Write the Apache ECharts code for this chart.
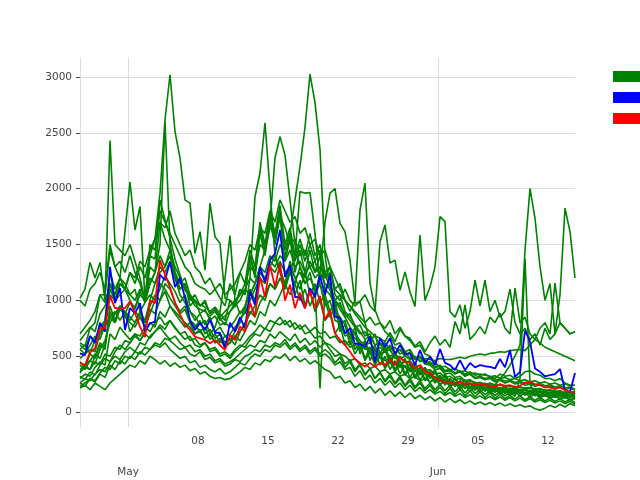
<!DOCTYPE html>
<html>
<head>
<meta charset="utf-8">
<script src="https://cdn.jsdelivr.net/npm/echarts@6/dist/echarts.min.js"></script>
<style>
html,body{margin:0;padding:0;background:#fff;}
#chart{width:640px;height:480px;}
</style>
</head>
<body>
<div id="chart"></div>
<script>
// ---- time base: 100 half-day samples ----
const startTime = Date.UTC(2020, 3, 26, 4, 48);
const stepHours = 12;

// ---- tick labels ----
const yTicks = [0, 500, 1000, 1500, 2000, 2500, 3000];
const dayTickDates = ['2020-05-08', '2020-05-15', '2020-05-22', '2020-05-29', '2020-06-05', '2020-06-12'];
const dayTickLabels = ['08', '15', '22', '29', '05', '12'];
const monthTickDates = ['2020-05-01', '2020-06-01'];
const monthTickLabels = ['May', 'Jun'];

// ---- series names ----
const legendNames = ['Others', 'Mean', 'Median'];

// ---- green series (values) ----
const green01 = [700,760,820,900,1050,980,1150,1050,1200,1100, 1250,1150,1300,1200,1400,1550,1960,2615,3020,2510, 2275,1900,1870,1420,1615,1270,1870,1570,1510,1020, 1000,950,1100,1050,1400,1200,1600,1400,1700,1500, 1750,1350,1550,1250,1450,1250,1450,1250,1400,1100, 1150,1000,920,850,760,700,640,600,620,560, 580,540,600,520,560,500,540,470,500,440, 450,400,420,370,380,340,360,320,340,300, 310,290,300,270,285,260,275,250,265,240, 250,230,245,220,235,210,225,200,215,195];
const green02 = [1020,1100,1340,1200,1340,1000,2430,1500,1450,1400, 1500,1350,1200,1000,1500,1450,1800,1700,1600,1500, 1400,1300,1250,1150,1120,1100,1050,1100,1020,950, 1150,1050,1250,1150,1450,1300,1700,1500,1800,1600, 1850,1500,1650,1400,1550,1400,1600,1400,1500,1250, 1300,1100,1050,1000,950,900,850,800,850,780, 800,750,820,700,760,680,640,580,600,520, 500,440,400,360,370,350,370,340,360,330, 340,330,320,300,340,320,330,300,320,360, 370,340,330,300,300,280,300,260,240,240];
const green03 = [620,590,750,800,1050,1050,1450,1300,1200,1620, 2060,1630,1840,1000,1400,1370,1900,1720,1560,1370, 1230,1090,1030,950,920,900,860,900,840,780, 900,980,1050,1150,1300,1250,1500,1450,1650,1600, 1750,1650,1500,1550,1400,1450,1300,1350,1200,1250, 1100,1000,1050,900,850,780,720,650,680,600, 620,560,590,520,560,500,530,470,490,430, 440,400,410,370,380,350,360,330,340,310, 320,300,310,285,295,275,285,265,275,255, 260,245,255,235,245,225,235,215,225,205];
const green04 = [560,520,600,680,650,780,850,800,920,880, 980,940,1050,1000,1150,1250,1500,2600,1500,1250, 1100,1150,950,1000,880,920,820,860,780,800, 760,820,900,880,1000,1100,1200,1150,1350,1300, 1400,1350,1450,1300,1350,1250,1300,1200,1250,1150, 1100,1000,950,880,820,760,700,720,650,680, 600,620,560,580,520,540,480,500,450,470, 420,440,400,410,380,390,360,370,340,350, 330,340,315,325,300,310,290,300,280,290, 270,280,260,270,250,260,240,250,235,240];
const green05 = [480,520,560,540,700,760,1150,1000,1150,1100, 1050,1100,900,820,1000,1150,1250,1300,1400,1200, 1050,980,900,860,780,820,700,760,900,1200, 1580,1000,880,950,1100,1000,1250,1180,1300,1400, 1280,1150,1350,1200,1100,1250,1050,1150,980,1050, 900,1000,780,820,650,760,560,640,520,600, 480,560,430,520,400,470,360,440,340,400, 320,380,280,340,260,300,240,290,220,270, 210,260,200,250,190,240,180,230,170,220, 160,210,150,200,145,190,140,180,130,170];
const green06 = [350,420,380,500,620,580,950,820,950,880, 820,900,850,760,880,1000,1100,1220,1150,1080, 980,1050,900,820,880,780,850,720,760,680, 700,760,820,900,1200,1930,2140,2590,1990,1400, 1250,1100,1300,1050,1180,950,1080,900,1000,820, 880,700,780,600,640,520,600,460,540,420, 500,390,460,360,430,330,400,300,370,280, 340,260,320,240,300,230,280,210,260,200, 240,190,230,180,220,170,210,165,200,160, 190,155,185,150,175,140,170,135,160,130];
const green07 = [420,380,460,520,480,600,850,900,820,900, 720,800,880,820,950,1050,1000,1150,1100,980, 900,950,820,780,720,760,650,700,620,680, 640,720,800,950,1050,1150,1300,1450,1700,2275, 2465,2300,1900,1500,1300,1150,1250,1050,1150,950, 1000,820,800,680,700,560,620,480,580,440, 540,400,500,380,470,340,440,320,400,290, 370,270,330,250,300,230,280,210,260,195, 245,185,230,175,220,165,210,160,200,150, 190,145,180,140,175,130,165,125,160,120];
const green08 = [560,600,520,650,700,820,1100,1000,1050,1100, 1000,920,1080,980,1150,1250,1400,1300,1450,1250, 1150,1200,1050,1000,950,1000,880,920,850,900, 950,1000,1050,1100,1200,1150,1300,1250,1400,1350, 1500,1400,1600,1900,2200,2550,3025,2770,2350,1400, 1100,900,850,780,700,660,620,560,580,520, 500,460,480,430,450,400,420,370,390,340, 330,310,300,280,290,260,270,240,255,230, 235,220,230,210,220,200,215,195,205,190, 195,180,190,170,180,160,175,150,160,150];
const green09 = [300,340,320,400,450,420,700,650,760,700, 650,700,640,720,800,760,900,850,950,880, 820,760,800,700,740,660,700,620,650,580, 620,680,640,720,820,780,900,860,1000,950, 1050,1150,1250,1400,1975,1960,1965,1600,1150,1000, 850,950,720,780,600,720,520,640,460,560, 420,500,380,460,340,420,310,380,290,350, 260,320,240,300,220,270,200,250,185,230, 175,220,165,205,160,195,150,185,140,175, 130,165,125,155,120,150,115,140,110,130];
const green10 = [380,420,460,430,560,640,800,880,950,900, 850,800,900,980,1050,1000,1150,1100,1020,950, 880,920,800,760,820,700,740,660,700,620, 660,600,720,780,900,850,980,1050,1150,1100, 1200,1150,1050,1150,1000,1100,950,1050,1250,1700, 1960,2000,1690,1615,1360,975,990,800,620,700, 520,600,450,540,400,480,360,440,330,400, 300,360,270,330,250,300,230,280,210,260, 195,245,185,230,175,220,165,210,160,200, 150,190,145,180,140,170,135,160,130,150];
const green11 = [450,400,520,480,600,560,900,800,950,850, 800,760,850,800,920,880,1000,1080,950,900, 850,800,760,700,720,660,700,620,660,600, 620,680,720,800,880,950,1050,1000,1150,1100, 1200,1100,1250,1150,1300,1200,1350,1250,1300,1200, 1250,1100,1150,1000,900,1000,1810,2050,1155,915, 800,720,680,600,620,540,560,480,500,430, 420,380,390,340,350,310,320,280,290,260, 265,245,255,235,245,225,235,215,225,205, 215,195,205,185,195,175,185,165,175,160];
const green12 = [1000,950,1100,1150,1250,1100,1500,1300,1350,1250, 1400,1250,1150,1000,1300,1250,1700,1550,1450,1300, 1200,1100,1050,980,960,940,900,940,880,820, 1000,940,1100,1050,1400,1250,1650,1450,1750,1550, 1800,1450,1600,1350,1500,1350,1500,1350,1450,1200, 1300,1050,1000,1100,1000,950,990,1050,950,900, 1525,1675,1335,1360,1090,1255,1075,945,1585,1000, 1120,1300,1750,1705,900,850,960,750,900,1180, 950,1180,900,1000,850,900,1100,800,700,750, 650,700,600,750,650,700,800,750,700,720];
const green13 = [640,700,760,720,880,950,1050,1000,1150,1100, 1250,1200,1350,1300,1450,1550,1700,1650,1800,1600, 1500,1400,1450,1300,1250,1150,1200,1100,1150,1050, 1100,1150,1250,1350,1500,1450,1650,1600,1800,1700, 1900,1800,1700,1750,1600,1650,1500,1550,1400,1450, 1300,1200,1100,1000,950,880,820,760,720,680, 660,630,710,630,740,680,660,590,630,540, 620,680,600,650,580,810,700,960,650,700, 765,700,850,800,885,750,700,1110,800,850, 700,650,750,800,700,1155,800,750,700,720];
const green14 = [260,300,280,340,380,360,450,500,470,540, 580,540,620,600,680,720,780,740,820,760, 700,650,680,600,580,620,540,560,500,520, 480,540,580,620,680,720,780,740,820,800, 850,780,820,740,780,700,720,660,680,620, 600,560,520,500,460,480,420,440,390,410, 360,380,340,360,320,340,300,320,280,300, 270,290,250,270,240,260,230,250,220,240, 230,210,260,240,300,350,420,500,600,1450, 2000,1735,1300,1000,1150,700,1050,1825,1615,1200];
const green15 = [230,260,300,280,350,400,380,460,430,500, 480,540,520,580,560,620,600,660,640,600, 560,580,520,500,540,470,490,440,460,410, 430,470,450,500,520,560,540,600,580,620, 600,650,580,620,560,600,540,580,520,560, 520,440,490,400,450,360,420,330,390,300, 360,280,340,260,320,240,300,225,280,210, 260,200,250,190,240,180,230,170,220,165, 200,155,190,150,180,145,175,140,300,1370, 250,160,140,150,130,140,120,130,110,120];
const green16 = [215,240,200,260,230,200,260,300,340,380, 420,400,460,430,500,470,430,460,410,440, 400,420,370,390,340,360,320,300,310,290, 300,330,360,400,380,440,420,470,450,500, 480,520,460,500,450,480,430,460,420,380, 360,300,320,260,280,220,250,190,230,170, 210,150,190,140,180,130,170,120,150,110, 140,100,130,90,120,85,110,75,100,70, 90,65,85,60,80,55,75,50,65,45, 55,30,16,35,60,40,70,45,75,55];
const green17 = [260,230,300,270,340,310,420,380,460,430, 500,470,540,510,560,600,580,620,560,520, 480,500,440,460,400,420,380,360,390,340, 360,400,440,420,480,520,500,560,540,600, 580,620,560,600,540,580,520,560,500,520, 480,420,450,380,400,320,370,290,330,260, 300,240,280,220,260,200,240,185,220,170, 200,160,185,150,175,140,165,130,155,120, 145,115,140,110,135,105,130,100,125,95, 120,90,110,85,105,80,100,75,95,70];
const green18 = [320,290,360,330,420,480,450,540,600,560, 620,680,640,700,660,720,760,700,650,680, 620,580,600,540,560,500,520,460,480,430, 450,480,520,560,600,580,640,620,700,660, 720,680,640,700,620,660,600,640,580,620, 560,500,520,430,470,380,430,340,390,300, 350,270,320,250,300,230,280,210,260,190, 240,175,225,165,210,155,200,145,190,135, 180,130,170,125,160,120,150,115,145,110, 135,105,130,100,125,95,120,90,115,85];
const green19 = [360,400,380,450,420,520,500,580,560,640, 620,700,680,760,720,800,850,780,820,750, 700,720,640,660,600,620,560,580,520,540, 500,560,600,580,650,700,680,750,720,800, 780,820,760,800,740,780,720,760,700,720, 660,680,620,640,580,600,560,580,540,560, 520,540,500,520,480,500,470,490,460,480, 470,460,480,470,470,480,490,480,500,510, 520,510,525,530,540,535,550,555,560,550, 600,650,620,580,560,540,520,500,480,460];
const green20 = [600,560,680,640,760,820,1250,1100,1200,1150, 1050,1000,1100,1050,1200,1150,1300,1250,1350,1200, 1100,1150,1000,1050,950,980,880,920,820,860, 900,950,1000,1100,1050,1150,1250,1200,1300,1250, 1350,1250,1300,1200,1250,1150,1200,1100,210,1100, 1050,950,980,850,880,760,780,680,700,600, 620,540,560,480,500,440,460,400,420,370, 380,340,350,310,320,290,300,270,280,260, 265,250,255,240,245,230,235,220,225,215, 220,205,210,195,200,185,190,175,180,170];

// ---- blue & red series ----
const blueValues = [525,510,680,618,800,720,1300,975,1110,735, 930,885,975,720,795,810,1230,1180,1345,1120, 1200,1020,825,735,800,735,825,710,710,570, 800,720,850,750,1080,960,1300,1165,1360,1420, 1630,1210,1315,1030,1030,930,1110,1030,1220,1050, 1230,855,840,705,750,610,610,585,675,450, 660,585,660,520,600,520,525,420,555,440, 495,420,565,440,420,375,465,375,440,400, 420,410,405,390,475,400,555,315,360,730, 630,390,360,320,330,340,385,195,180,350];
const redValues = [440,420,535,570,750,750,1035,930,930,930, 990,885,765,670,1000,975,1360,1230,1115,980, 875,780,735,675,660,645,615,645,600,555, 690,645,765,720,980,855,1210,1030,1315,1120, 1325,1000,1140,930,1070,930,1085,930,1040,825, 915,705,645,600,540,475,440,405,440,405, 440,420,475,420,490,450,440,390,420,360, 350,305,285,260,265,250,270,250,260,240, 250,240,235,225,250,235,240,225,235,265, 270,250,240,220,220,205,220,195,180,180];

const greenList = [green01, green02, green03, green04, green05, green06, green07, green08, green09, green10,
                   green11, green12, green13, green14, green15, green16, green17, green18, green19, green20];

// ---- build ----
const HOUR = 3600 * 1000;
function toPairs(values) {
  return values.map((v, i) => [startTime + i * stepHours * HOUR, v]);
}
function dateToTs(s) {
  const p = s.split('-').map(Number);
  return Date.UTC(p[0], p[1] - 1, p[2]);
}
const xMin = startTime;
const xMax = startTime + (redValues.length - 1) * stepHours * HOUR;
const dayTickTs = dayTickDates.map(dateToTs);
const monthTickTs = monthTickDates.map(dateToTs);

function labelFor(tsList, labels) {
  return (v) => {
    let best = -1, bd = Infinity;
    tsList.forEach((t, k) => { const d = Math.abs(t - v); if (d < bd) { bd = d; best = k; } });
    return (best >= 0 && bd < HOUR) ? labels[best] : '';
  };
}

const labelFont = { fontFamily: 'DejaVu Sans', fontSize: 10.5, color: '#444' };

const series = [];
greenList.forEach(arr => {
  series.push({
    name: legendNames[0], type: 'line', data: toPairs(arr), xAxisIndex: 0,
    symbol: 'none', showSymbol: false,
    lineStyle: { color: '#008000', width: 1.6 }, itemStyle: { color: '#008000' }, z: 2
  });
});
series.push({
  name: legendNames[1], type: 'line', data: toPairs(blueValues), xAxisIndex: 1,
  symbol: 'none', showSymbol: false,
  lineStyle: { color: '#0000ff', width: 1.8 }, itemStyle: { color: '#0000ff' }, z: 3
});
series.push({
  name: legendNames[2], type: 'line', data: toPairs(redValues), xAxisIndex: 1,
  symbol: 'none', showSymbol: false,
  lineStyle: { color: '#ff0000', width: 1.8 }, itemStyle: { color: '#ff0000' }, z: 4
});

const chart = echarts.init(document.getElementById('chart'), null, { renderer: 'canvas' });
chart.setOption({
  animation: false,
  backgroundColor: '#ffffff',
  grid: { left: 80, right: 65, top: 58, bottom: 53, containLabel: false, outerBoundsMode: 'none' },
  legend: {
    data: legendNames,
    orient: 'vertical',
    left: 608, top: 66,
    itemWidth: 40, itemHeight: 11, itemGap: 10,
    icon: 'rect',
    textStyle: { fontFamily: 'DejaVu Sans', fontSize: 11, color: '#333' },
    selectedMode: false
  },
  xAxis: [
    {
      type: 'value', position: 'bottom', min: xMin, max: xMax, scale: true,
      axisLine: { show: false },
      axisTick: { show: false, customValues: dayTickTs },
      splitLine: { show: false },
      axisLabel: { customValues: dayTickTs, formatter: labelFor(dayTickTs, dayTickLabels), margin: 9, ...labelFont }
    },
    {
      type: 'value', position: 'bottom', min: xMin, max: xMax, scale: true,
      axisLine: { show: false },
      axisTick: { show: false, customValues: monthTickTs },
      splitLine: { show: true, lineStyle: { color: '#dcdcdc', width: 1 } },
      axisLabel: { customValues: monthTickTs, formatter: labelFor(monthTickTs, monthTickLabels), margin: 40, ...labelFont }
    }
  ],
  yAxis: {
    type: 'value', min: -134, max: 3170,
    axisLine: { show: true, lineStyle: { color: '#dcdcdc', width: 1 } },
    axisTick: { show: true, length: 4, customValues: yTicks, lineStyle: { color: '#444' } },
    splitLine: { show: true, lineStyle: { color: '#dcdcdc', width: 1 } },
    axisLabel: { customValues: yTicks, formatter: (v) => String(v), margin: 8, ...labelFont }
  },
  series: series
});
</script>
</body>
</html>
